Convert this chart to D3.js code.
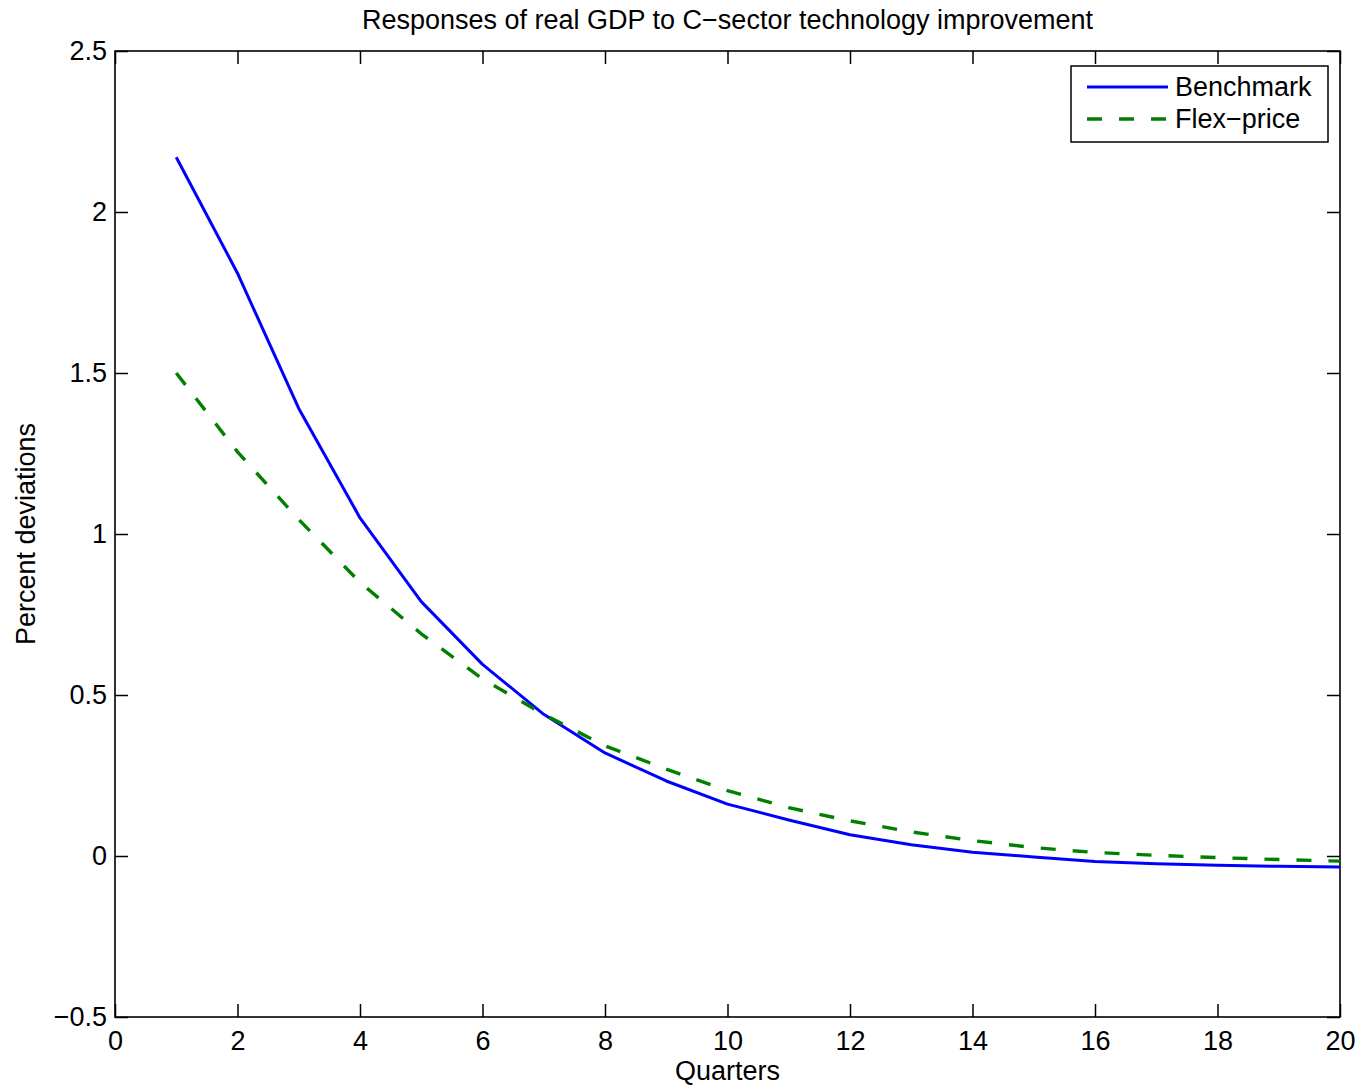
<!DOCTYPE html>
<html>
<head>
<meta charset="utf-8">
<script src="https://cdn.jsdelivr.net/npm/d3@7"></script>
<style>
  html, body { margin: 0; padding: 0; background: #fff; }
  svg { display: block; font-family: "Liberation Sans", Arial, sans-serif; }
</style>
</head>
<body>
<svg id="chart" width="1360" height="1087"></svg>
<script>
// Impulse responses, quarters 1..20
const quarters = d3.range(1, 21);
const benchmark = [2.17, 1.81, 1.39, 1.05, 0.79, 0.595, 0.44, 0.32, 0.233, 0.161,
                   0.112, 0.066, 0.035, 0.012, -0.003, -0.017, -0.024, -0.029, -0.032, -0.034];
const flexPrice = [1.50, 1.255, 1.045, 0.85, 0.69, 0.55, 0.44, 0.342, 0.27, 0.203,
                   0.15, 0.109, 0.075, 0.048, 0.026, 0.011, 0.002, -0.005, -0.011, -0.016];

const xTicks = [0, 2, 4, 6, 8, 10, 12, 14, 16, 18, 20];
const yTicks = [-0.5, 0, 0.5, 1, 1.5, 2, 2.5];

const series = [
  { name: "Benchmark", values: benchmark, color: "#0000ff", dash: null, width: 3 },
  { name: "Flex\u2212price", values: flexPrice, color: "#008000", dash: "15,17", width: 3.4 }
];

const margin = { left: 115, right: 20, top: 51, bottom: 70 };
const W = 1360, H = 1087;
const innerW = W - margin.left - margin.right;
const innerH = H - margin.top - margin.bottom;
const FONT = 27;

const svg = d3.select("#chart");
const g = svg.append("g").attr("transform", `translate(${margin.left},${margin.top})`);

const x = d3.scaleLinear().domain([0, 20]).range([0, innerW]);
const y = d3.scaleLinear().domain([-0.5, 2.5]).range([innerH, 0]);

const fmt = d => (d < 0 ? "\u2212" + Math.abs(d) : String(d));
const TICK = 13;

function styleAxis(sel) {
  sel.selectAll("path.domain").remove();
  sel.selectAll("line").attr("stroke", "#000").attr("stroke-width", 1.5);
  sel.selectAll("text").attr("font-size", FONT).attr("fill", "#000")
     .attr("font-family", "'Liberation Sans', Arial, sans-serif");
}

// bottom and left axes with labels, ticks pointing inward
g.append("g").attr("transform", `translate(0,${innerH})`)
  .call(d3.axisBottom(x).tickValues(xTicks).tickFormat(fmt).tickSizeInner(-TICK).tickSizeOuter(0).tickPadding(14))
  .call(styleAxis);
g.append("g")
  .call(d3.axisLeft(y).tickValues(yTicks).tickFormat(fmt).tickSizeInner(-TICK).tickSizeOuter(0).tickPadding(8))
  .call(styleAxis);
// mirrored ticks on top and right
g.append("g")
  .call(d3.axisTop(x).tickValues(xTicks).tickFormat("").tickSizeInner(-TICK).tickSizeOuter(0))
  .call(styleAxis);
g.append("g").attr("transform", `translate(${innerW},0)`)
  .call(d3.axisRight(y).tickValues(yTicks).tickFormat("").tickSizeInner(-TICK).tickSizeOuter(0))
  .call(styleAxis);

// plot frame
g.append("rect").attr("x", 0).attr("y", 0).attr("width", innerW).attr("height", innerH)
  .attr("fill", "none").attr("stroke", "#000").attr("stroke-width", 1.6);

// response lines
const line = d3.line().x((d, i) => x(quarters[i])).y(d => y(d));
g.selectAll("path.series").data(series).join("path")
  .attr("class", "series")
  .attr("d", d => line(d.values))
  .attr("fill", "none")
  .attr("stroke", d => d.color)
  .attr("stroke-width", d => d.width)
  .attr("stroke-dasharray", d => d.dash)
  .attr("stroke-linejoin", "round");

// title and axis labels
svg.append("text").attr("x", margin.left + innerW / 2).attr("y", 29)
  .attr("text-anchor", "middle").attr("font-size", FONT).attr("fill", "#000")
  .text("Responses of real GDP to C\u2212sector technology improvement");
svg.append("text").attr("x", margin.left + innerW / 2).attr("y", 1080)
  .attr("text-anchor", "middle").attr("font-size", FONT).attr("fill", "#000")
  .text("Quarters");
svg.append("text").attr("transform", `translate(35,${margin.top + innerH / 2}) rotate(-90)`)
  .attr("text-anchor", "middle").attr("font-size", FONT).attr("fill", "#000")
  .text("Percent deviations");

// legend
const legend = svg.append("g");
legend.append("rect").attr("x", 1071).attr("y", 66).attr("width", 257).attr("height", 76)
  .attr("fill", "#fff").attr("stroke", "#000").attr("stroke-width", 1.5);
const rows = legend.selectAll("g.row").data(series).join("g")
  .attr("class", "row")
  .attr("transform", (d, i) => `translate(0,${87 + i * 32})`);
rows.append("line").attr("x1", 1087).attr("x2", 1168).attr("y1", 0).attr("y2", 0)
  .attr("stroke", d => d.color).attr("stroke-width", d => d.width)
  .attr("stroke-dasharray", d => d.dash);
rows.append("text").attr("x", 1175).attr("y", 0).attr("dy", "0.35em")
  .attr("font-size", FONT).attr("fill", "#000").text(d => d.name);
</script>
</body>
</html>
